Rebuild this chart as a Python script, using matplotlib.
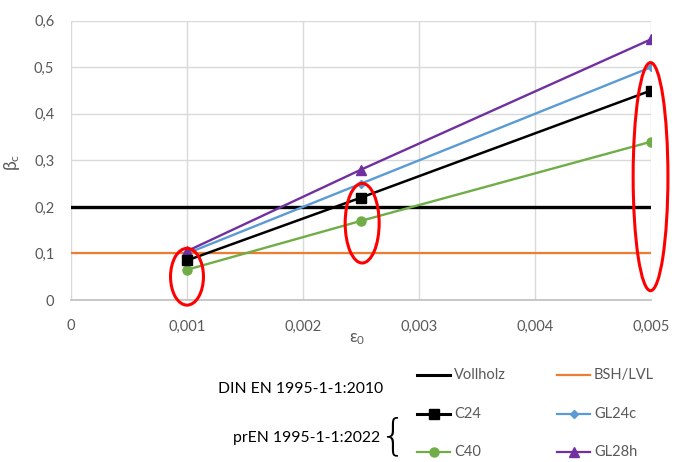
import matplotlib
matplotlib.use("Agg")
import matplotlib.pyplot as plt
from matplotlib.patches import Ellipse
from matplotlib.lines import Line2D

plt.rcParams['font.family'] = ['Lato', 'DejaVu Sans']

# data
eps = [0.001, 0.0025, 0.005]
c24 = [0.085, 0.22, 0.45]
c40 = [0.065, 0.17, 0.34]
gl24c = [0.10, 0.25, 0.50]
gl28h = [0.105, 0.28, 0.56]
vollholz = [0.2, 0.2]
bsh = [0.1, 0.1]
limit_x = [0.0, 0.005]
xticks = [0, 0.001, 0.002, 0.003, 0.004, 0.005]
xticklabels = ['0', '0,001', '0,002', '0,003', '0,004', '0,005']
yticks = [0, 0.1, 0.2, 0.3, 0.4, 0.5, 0.6]
yticklabels = ['0', '0,1', '0,2', '0,3', '0,4', '0,5', '0,6']
# highlighted groups: (x centre, y centre, width, height)
ell_x = [0.001, 0.00251, 0.004996]
ell_y = [0.050, 0.165, 0.265]
ell_w = [0.000284, 0.000293, 0.0003]
ell_h = [0.122, 0.171, 0.49]

C_BLACK = '#000000'
C_ORANGE = '#ED7D31'
C_BLUE = '#5B9BD5'
C_GREEN = '#70AD47'
C_PURPLE = '#7030A0'
TXT = '#595959'

W, H = 682, 462
fig = plt.figure(figsize=(W / 100, H / 100), dpi=100)
ax = fig.add_axes([71 / W, 1 - 300 / H, 580 / W, 279.3 / H])

ax.plot(limit_x, vollholz, color=C_BLACK, lw=2.4, zorder=3)
ax.plot(limit_x, bsh, color=C_ORANGE, lw=1.6, zorder=3)
ax.plot(eps, c40, color=C_GREEN, lw=1.7, marker='o', ms=6.5, zorder=4)
ax.plot(eps, c24, color=C_BLACK, lw=1.8, marker='s', ms=6.5, zorder=5)
ax.plot(eps, gl24c, color=C_BLUE, lw=1.7, marker='D', ms=4, zorder=4)
ax.plot(eps, gl28h, color=C_PURPLE, lw=1.7, marker='^', ms=6.5, zorder=4)

for x, y, w, h in zip(ell_x, ell_y, ell_w, ell_h):
    e = Ellipse((x, y), w, h, fill=False, edgecolor='#FF0000', lw=2.2, zorder=6, clip_on=False)
    ax.add_patch(e)

ax.set_xlim(0, 0.005)
ax.set_ylim(0, 0.6)
ax.set_xticks(xticks)
ax.set_xticklabels(xticklabels)
ax.set_yticks(yticks)
ax.set_yticklabels(yticklabels)
ax.grid(True, color='#D9D9D9', lw=1.0)
ax.set_axisbelow(True)
for s in ['left', 'right', 'top']:
    ax.spines[s].set_visible(False)
ax.spines['bottom'].set_color('#BFBFBF')
ax.spines['bottom'].set_linewidth(1.2)
ax.tick_params(length=0, labelsize=10.5, colors=TXT, pad=14)
ax.tick_params(axis='y', pad=12)

ax.set_xlabel(r'$\mathregular{\varepsilon_0}$', fontsize=12, color=TXT, labelpad=0)
ax.set_ylabel(r'$\mathregular{\beta_c}$', fontsize=12.5, color=TXT, labelpad=0)
ax.xaxis.set_label_coords((357 - 71) / 580, -(331 - 300) / 279.3)
ax.yaxis.set_label_coords(-(71 - 22) / 580, (300 - 162) / 279.3)

# legend overlay in pixel coordinates
ov = fig.add_axes([0, 0, 1, 1])
ov.set_xlim(0, W)
ov.set_ylim(H, 0)
ov.axis('off')

entries = [
    (417, 375, C_BLACK, None, 'Vollholz', 2.2),
    (557, 375, C_ORANGE, None, 'BSH/LVL', 1.6),
    (417, 414, C_BLACK, 's', 'C24', 2.2),
    (557, 414, C_BLUE, 'D', 'GL24c', 1.6),
    (417, 452, C_GREEN, 'o', 'C40', 1.6),
    (557, 452, C_PURPLE, '^', 'GL28h', 1.6),
]
for x0, y0, col, mk, lab, lw in entries:
    ov.add_line(Line2D([x0, x0 + 33], [y0, y0], color=col, lw=lw,
                       marker=None))
    if mk:
        ov.plot([x0 + 16.5], [y0], marker=mk, color=col, ms=6.5 if mk != 'D' else 4)
    ov.text(x0 + 37, y0, lab, fontsize=10.5, color=TXT, va='center', ha='left')

ov.text(218, 389, 'DIN EN 1995-1-1:2010', fontsize=11.3, color='black', va='center', ha='left')
ov.text(380, 438, 'prEN 1995-1-1:2022', fontsize=11.3, color='black', va='center', ha='right')
ov.text(393, 437, '{', fontsize=30, color='black', va='center', ha='center',
        family='DejaVu Sans', fontweight='ultralight')

fig.savefig('out.png', dpi=100)
